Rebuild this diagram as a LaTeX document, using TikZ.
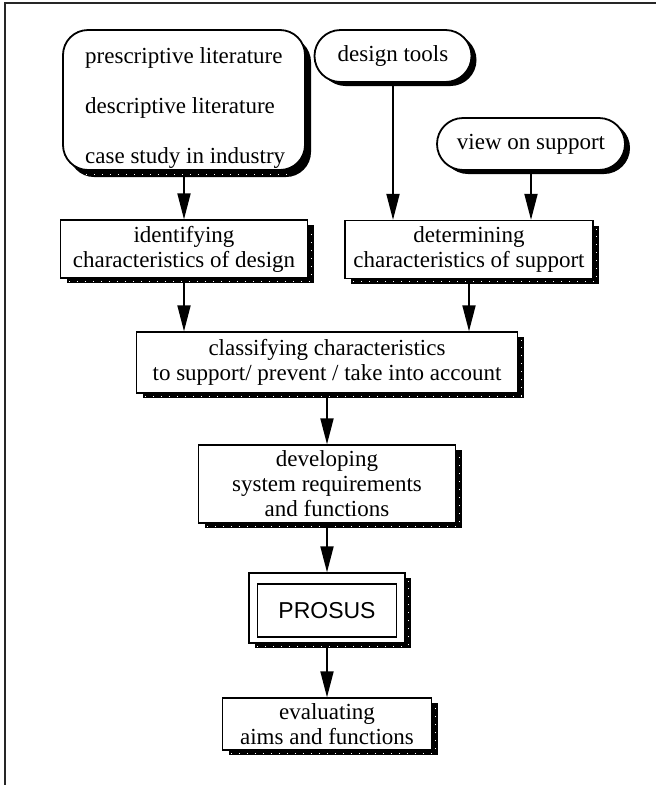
\documentclass[tikz,border=0pt]{standalone}
\usepackage{fontspec}
\setmainfont{Liberation Serif}
\setsansfont{Liberation Sans}
\usetikzlibrary{arrows.meta,shadows}
\tikzset{
  txt/.style={font=\fontsize{23}{25}\selectfont},
  rbox/.style={draw=black, line width=1.3pt, fill=white, inner sep=0pt, align=center, txt,
    drop shadow={shadow xshift=6pt, shadow yshift=-5pt, fill=black, opacity=1}},
  pill/.style={draw=black, line width=1.8pt, fill=white, inner sep=0pt, txt,
    minimum height=52pt, rounded corners=26pt,
    drop shadow={shadow xshift=5pt, shadow yshift=-4pt, fill=black, opacity=1}},
  srcbox/.style={draw=black, line width=1.8pt, fill=white, inner sep=0pt, rounded corners=25pt,
    drop shadow={shadow xshift=6pt, shadow yshift=-7pt, fill=black, opacity=1}},
  arr/.style={line width=1.8pt, -{Triangle[length=26pt, width=13pt]}},
  shdot/.style={draw=white, line width=1.1pt, dash pattern=on 1pt off 7pt},
  frame/.style={line width=1.6pt, draw=black!85}
}
\begin{document}
\begin{tikzpicture}[x=1pt, y=-1pt]
\useasboundingbox (0,0) rectangle (656,785);
% frame
\coordinate (fbl) at (5,785);
\coordinate (ftl) at (5,3);
\coordinate (ftr) at (656,3);
\draw[frame] (fbl) -- (ftl) -- (ftr);

% source box
\node[srcbox, minimum width=242pt, minimum height=140pt] (src) at (184,100) {};
\node[inner sep=0pt, align=left, anchor=north west, font=\fontsize{23}{50}\selectfont]
  (srctext) at (85,47.3)
  {prescriptive literature\\descriptive literature\\case study in industry};
\node[pill, minimum width=157pt] (tools) at (393,56) {design tools};
\node[pill, minimum width=188pt] (view) at (531,144) {view on support};

\node[rbox, minimum width=247pt, minimum height=58pt] (ident) at (184,249)
  {identifying\\characteristics of design};
\node[rbox, minimum width=248pt, minimum height=58pt] (det) at (469,249.5)
  {determining\\characteristics of support};
\node[rbox, minimum width=381pt, minimum height=61pt] (cls) at (327,362.5)
  {classifying characteristics\\to support/ prevent / take into account};
\node[rbox, minimum width=257pt, minimum height=78pt] (dev) at (327,484)
  {developing\\system requirements\\and functions};
\node[rbox, minimum width=156pt, minimum height=70pt] (prout) at (327,608) {};
\node[draw=black, line width=1.3pt, inner sep=0pt, minimum width=139pt, minimum height=53pt,
      font=\sffamily\fontsize{23}{25}\selectfont] (pros) at (327,610.5) {PROSUS};
\node[rbox, minimum width=209pt, minimum height=52pt] (eval) at (327,724)
  {evaluating\\aims and functions};

% shadow dots
\foreach \n in {ident,det,cls,dev,prout,eval}{
  \draw[shdot] ([xshift=9pt,yshift=-2.5pt]\n.south west) -- ([xshift=3pt,yshift=-2.5pt]\n.south east)
     -- ([xshift=3pt,yshift=-9pt]\n.north east);
}
\draw[shdot] ([xshift=24pt,yshift=-3.5pt]src.south west) -- ([xshift=-18pt,yshift=-3.5pt]src.south east);

% arrows
\draw[arr] (src.south) -- (ident.north);
\draw[arr] (tools.south) -- (tools.south |- det.north);
\draw[arr] (view.south) -- (view.south |- det.north);
\draw[arr] (ident.south) -- (ident.south |- cls.north);
\draw[arr] (det.south) -- (det.south |- cls.north);
\draw[arr] (cls.south) -- (cls.south |- dev.north);
\draw[arr] (dev.south) -- (dev.south |- prout.north);
\draw[arr] (prout.south) -- (prout.south |- eval.north);
\end{tikzpicture}
\end{document}
